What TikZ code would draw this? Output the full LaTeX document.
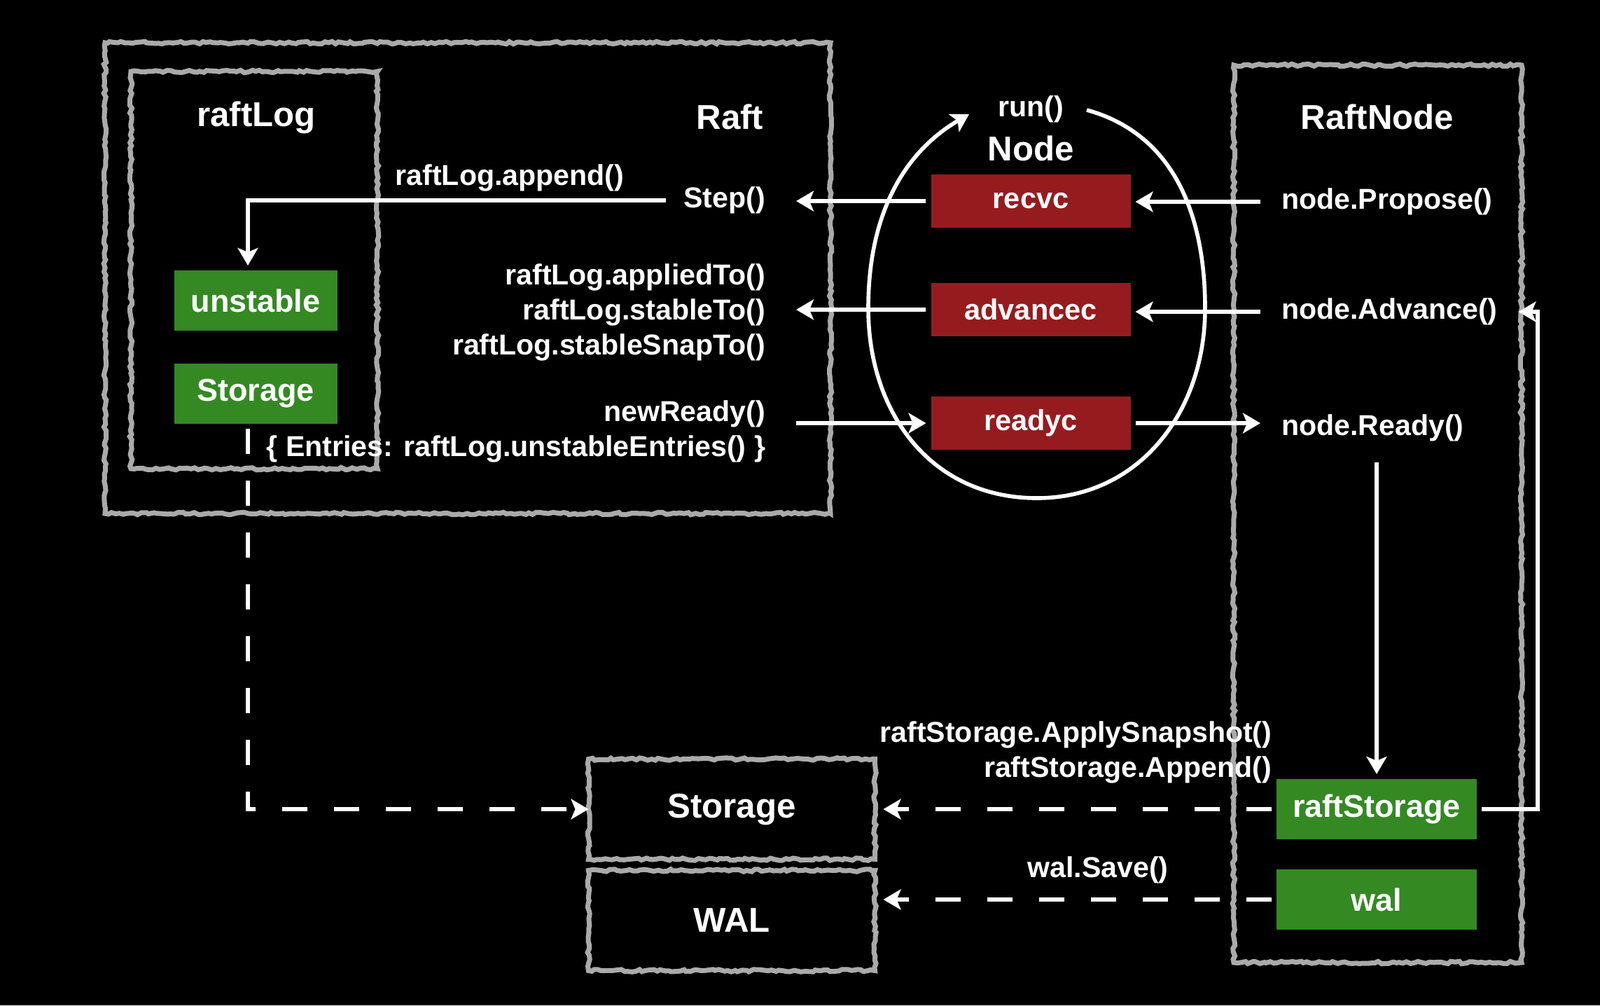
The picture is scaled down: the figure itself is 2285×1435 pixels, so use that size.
\documentclass[tikz,border=0pt]{standalone}
\usepackage{fontspec}
\setmainfont{Liberation Sans}
\usetikzlibrary{arrows.meta,decorations.pathmorphing}

\definecolor{boxGreen}{RGB}{52,137,35}
\definecolor{chanRed}{RGB}{150,27,31}
\definecolor{sketchGray}{RGB}{170,170,170}

\tikzset{
    sketch/.style={draw=sketchGray, line width=2pt, decorate,
        decoration={random steps, segment length=1.5pt, amplitude=0.5pt}},
    flow/.style={draw=white, line width=1.6pt,
        -{Stealth[length=2.5mm, width=2.9mm, inset=0.6mm]}},
    flowdash/.style={flow, dash pattern=on 3.6mm off 3.8mm},
    heading/.style={text=white, inner sep=0pt, font=\fontsize{14}{16}\selectfont\bfseries},
    call/.style={text=white, inner sep=0pt, font=\fontsize{11.7}{14.2}\selectfont\bfseries},
    chan/.style={fill=chanRed, text=white, minimum width=28.5mm, minimum height=7.6mm,
        outer sep=2pt, font=\fontsize{11.8}{14}\selectfont\bfseries},
    store/.style={fill=boxGreen, text=white, minimum height=8.6mm,
        outer sep=2pt, font=\fontsize{12.8}{15}\selectfont\bfseries},
    disk/.style={text=white, minimum width=40.9mm, minimum height=14.3mm,
        outer sep=0pt, font=\fontsize{14}{16}\selectfont\bfseries}
}

\begin{document}
\begin{tikzpicture}[x=0.1mm, y=-0.1mm]
    \fill[black] (0,0) rectangle (2285,1435);

    % sketched frames
    \draw[sketch] (150,61) rectangle (1186,733);
    \draw[sketch] (187,102) rectangle (539,669);
    \draw[sketch] (1762,93) rectangle (2173,1374);

    % the run() loop of Node
    \draw[flow] (1552,157) .. controls (1690,195) and (1721,330) .. (1721,440)
        .. controls (1721,590) and (1625,711) .. (1481,711)
        .. controls (1330,711) and (1240,590) .. (1240,440)
        .. controls (1240,300) and (1295,215) .. (1384,163);

    % headings
    \node[heading] (raftLogT) at (366,168) {raftLog};
    \node[heading, anchor=east] (raftT) at (1091,167) {Raft};
    \node[heading] (raftNodeT) at (1967,167) {RaftNode};
    \node[call] (runT) at (1472,156) {run()};
    \node[heading] (nodeT) at (1472,212) {Node};

    % boxes
    \node[store, minimum width=23.3mm] (unstable) at (365,429) {unstable};
    \node[store, minimum width=23.3mm] (stor) at (365,562) {Storage};
    \foreach \name/\y in {recvc/287, advancec/442, readyc/604}{
        \node[chan] (\name) at (1472,\y) {\name};
    }
    \node[store, minimum width=28.6mm] (raftStorage) at (1966,1155) {raftStorage};
    \node[store, minimum width=28.6mm] (wal) at (1966,1284) {wal};
    \node[disk] (storageBox) at (1045,1155) {Storage};
    \node[disk] (walBox) at (1045,1314) {WAL};
    \foreach \b in {storageBox, walBox}{
        \draw[sketch] (\b.south west) rectangle (\b.north east);
    }

    % calls
    \node[call, anchor=west] (append) at (564,254) {raftLog.append()};
    \node[call, anchor=east, outer xsep=4.4mm] (step) at (1137,286) {Step()};
    \node[call, anchor=east, align=right, outer xsep=4.4mm] (applied) at (1137,446)
        {raftLog.appliedTo()\\raftLog.stableTo()\\raftLog.stableSnapTo()};
    \node[call, anchor=east, align=right, outer xsep=4.4mm] (newReady) at (1137,616)
        {newReady()\\\{ Entries: raftLog.unstableEntries() \}};
    \node[call, anchor=west, outer sep=3mm] (propose) at (1800,288) {node.Propose()};
    \node[call, anchor=west, outer sep=3mm] (advance) at (1800,445) {node.Advance()};
    \node[call, anchor=west, outer sep=3mm] (ready) at (1800,611) {node.Ready()};
    \node[call, anchor=east, align=right] (snap) at (1817,1074)
        {raftStorage.ApplySnapshot()\\raftStorage.Append()};
    \node[call] (save) at (1568,1242) {wal.Save()};

    % connectors
    \draw[flow] (recvc.west) -- (recvc.west -| step.east);
    \draw[flow] (advancec.west) -- (advancec.west -| applied.east);
    \draw[flow] (newReady.east |- readyc.west) -- (readyc.west);
    \draw[flow] (propose.west) -- (propose.west -| recvc.east);
    \draw[flow] (advance.west) -- (advance.west -| advancec.east);
    \draw[flow] (readyc.east) -- (readyc.east -| ready.west);
    \draw[flow] ([xshift=1.8mm]step.west) -| ([xshift=-1.1mm]unstable.north);
    \draw[flow] (raftStorage |- ready.south) -- (raftStorage.north);
    \draw[flow] (raftStorage.east) -- ++(80,0) |- (advance.east);
    \draw[flowdash] ([xshift=-1.1mm]stor.south) |- (storageBox.west);
    \draw[flowdash, shorten >=1.2mm] (raftStorage.west) -- (storageBox.east);
    \draw[flowdash, shorten >=1.2mm] (wal.west) -- (wal.west -| walBox.east);
\end{tikzpicture}
\end{document}
